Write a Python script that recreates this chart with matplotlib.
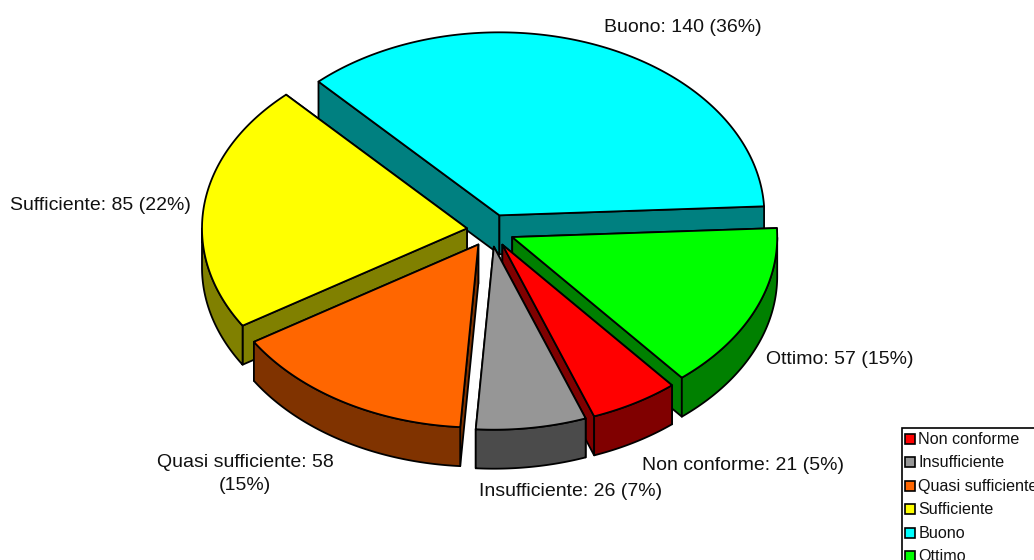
import matplotlib
matplotlib.use("Agg")
import matplotlib.pyplot as plt
import numpy as np

plt.rcParams['font.family'] = ['Liberation Sans', 'DejaVu Sans']

categories = ['Non conforme', 'Insufficiente', 'Quasi sufficiente', 'Sufficiente', 'Buono', 'Ottimo']
values = [21, 26, 58, 85, 140, 57]
percents = [5, 7, 15, 22, 36, 15]
colors = ['#FF0000', '#969696', '#FF6600', '#FFFF00', '#00FFFF', '#00FF00']
dark_colors = ['#800000', '#4B4B4B', '#803300', '#808000', '#008080', '#008000']

# pie geometry, in pixels
cx, cy = 490.5, 230.5
rx, ry = 265, 183
explode = 23.7
depth = 39
first_angle = -50.2  # math degrees, slices run clockwise

fig = plt.figure(figsize=(10.34, 5.6), dpi=100)
ax = fig.add_axes([0, 0, 1, 1])
ax.set_xlim(0, 1034)
ax.set_ylim(560, 0)
ax.axis('off')

fracs = np.array(values) / sum(values)
ends = first_angle - np.cumsum(fracs) * 360
starts = ends + fracs * 360


def draw_slice(i):
    a0, a1 = np.radians(starts[i]), np.radians(ends[i])
    mid = (a0 + a1) / 2
    x0 = cx + explode * np.cos(mid)
    y0 = cy - explode * ry / rx * np.sin(mid)
    t = np.linspace(a0, a1, 400)
    ex = x0 + rx * np.cos(t)
    ey = y0 - ry * np.sin(t)
    kw = dict(edgecolor='black', linewidth=1.3, joinstyle='round')
    # cut faces back to front, then the rim, then the top
    for px, py in sorted([(ex[0], ey[0]), (ex[-1], ey[-1])], key=lambda p: p[1]):
        ax.fill([x0, px, px, x0], [y0, py, py + depth, y0 + depth], facecolor=dark_colors[i], **kw)
    # only the part of the rim that faces the viewer
    front = np.sin(t) <= 0
    if front.any():
        fx, fy = ex[front], ey[front]
        ax.fill(np.r_[fx, fx[::-1]], np.r_[fy, fy[::-1] + depth], facecolor=dark_colors[i], **kw)
    ax.fill(np.r_[x0, ex], np.r_[y0, ey], facecolor=colors[i], **kw)


for i in [4, 3, 5, 2, 0, 1]:
    draw_slice(i)

# data labels
label_pos = [(743, 466), (571, 492), (245, 474), (100, 206), (683, 28), (840, 360)]
for i, (x, y) in enumerate(label_pos):
    name = categories[i]
    text = '{}: {} ({}%)'.format(name, values[i], percents[i])
    if name == 'Quasi sufficiente':
        text = '{}: {}\n({}%)'.format(name, values[i], percents[i])
    ax.text(x, y, text, ha='center', va='center', fontsize=14, color='#111111', linespacing=1.45)

# legend, runs off the canvas like the original
ax.add_patch(plt.Rectangle((902, 428), 140, 140, facecolor='white', edgecolor='black', linewidth=1.2))
for i, name in enumerate(categories):
    y = 438.5 + i * 23.5
    ax.add_patch(plt.Rectangle((905, y - 5), 10, 10, facecolor=colors[i], edgecolor='black', linewidth=1.2))
    ax.text(918.5, y + 0.5, name, ha='left', va='center', fontsize=11.6, color='#111111')

fig.savefig('out.png', dpi=100)
